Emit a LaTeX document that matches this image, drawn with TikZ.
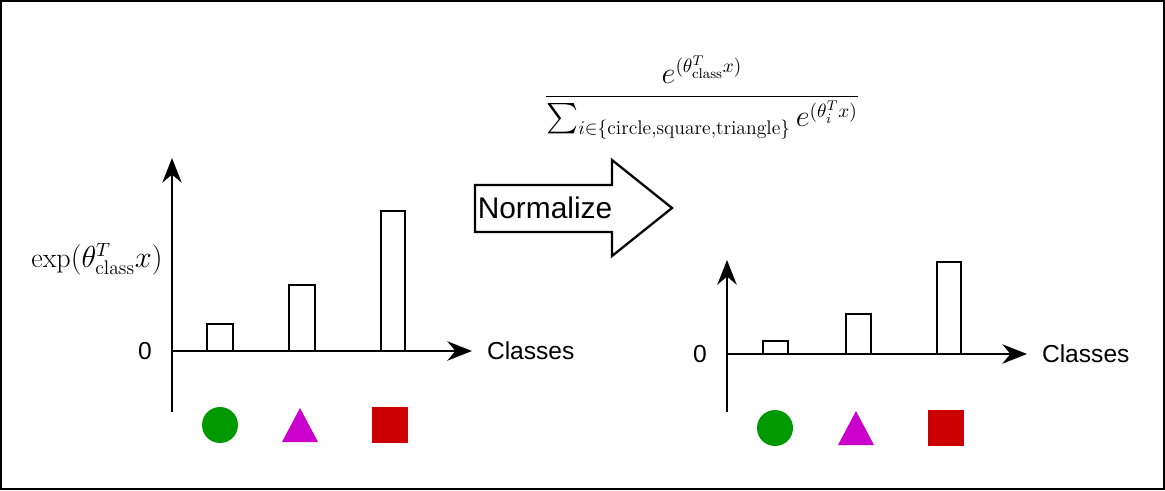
\documentclass[tikz,border=0pt]{standalone}
\usepackage{fontspec}
\usepackage{amsmath}
\setsansfont{Liberation Sans}
\usetikzlibrary{positioning,shapes.geometric,arrows.meta}
\definecolor{trimag}{RGB}{204,0,204}
\definecolor{sqred}{RGB}{204,0,0}
\definecolor{cgreen}{RGB}{0,153,0}
\tikzset{
  bar/.style={draw,line width=1.3pt,fill=white},
  axis/.style={line width=1.3pt,-{Stealth[length=14pt,width=11pt]}},
  lbl/.style={font=\sffamily\fontsize{14}{16}\selectfont}
}
\begin{document}
\begin{tikzpicture}[x=0.02cm,y=-0.02cm]
    \useasboundingbox (0,0) rectangle (1165,490);
    \draw[line width=1.5pt] (1,1) rectangle (1164,489);

    % left chart
    \coordinate (ly0) at (172,412);
    \coordinate (ly1) at (172,158);
    \coordinate (lx0) at (172,351);
    \coordinate (lx1) at (472,351);
    \draw[axis] (ly0) -- (ly1);
    \draw[axis] (lx0) -- (lx1);
    \node[lbl, left=8pt of lx0] (lzero) {0};
    \node[lbl, right=5pt of lx1] (lcls) {Classes};
    \node[font=\fontsize{16}{18}\selectfont] (lexp) at (97,259) {$\exp(\theta_{\text{class}}^{T}x)$};
    \draw[bar] (207,351) rectangle (233,324);
    \draw[bar] (289,351) rectangle (315,285);
    \draw[bar] (381,351) rectangle (405,211);
    \fill[cgreen] (220,425) circle (18);
    \fill[trimag] (300,408) -- (318,442) -- (282,442) -- cycle;
    \fill[sqred] (372,407) rectangle (408,443);

    % normalize arrow
    \draw[line width=1.3pt, fill=white] (475,185) -- (612,185) -- (612,160) -- (672,208)
      -- (612,256) -- (612,232) -- (475,232) -- cycle;
    \node[font=\sffamily\fontsize{17}{19}\selectfont] (norm) at (545,208) {Normalize};

    % right chart
    \coordinate (ry0) at (727,412);
    \coordinate (ry1) at (727,260);
    \coordinate (rx0) at (727,354);
    \coordinate (rx1) at (1027,354);
    \draw[axis] (ry0) -- (ry1);
    \draw[axis] (rx0) -- (rx1);
    \node[lbl, left=8pt of rx0] (rzero) {0};
    \node[lbl, right=5pt of rx1] (rcls) {Classes};
    \node[font=\fontsize{16}{18}\selectfont] (rfrac) at (702,98)
      {$\dfrac{e^{(\theta_{\text{class}}^{T}x)}}{\sum_{i\in\{\text{circle,square,triangle}\}} e^{(\theta_i^{T}x)}}$};
    \draw[bar] (763,354) rectangle (788,341);
    \draw[bar] (846,354) rectangle (871,314);
    \draw[bar] (937,354) rectangle (961,262);
    \fill[cgreen] (775,428) circle (18);
    \fill[trimag] (856,411) -- (874,445) -- (838,445) -- cycle;
    \fill[sqred] (928,410) rectangle (964,446);
\end{tikzpicture}
\end{document}
